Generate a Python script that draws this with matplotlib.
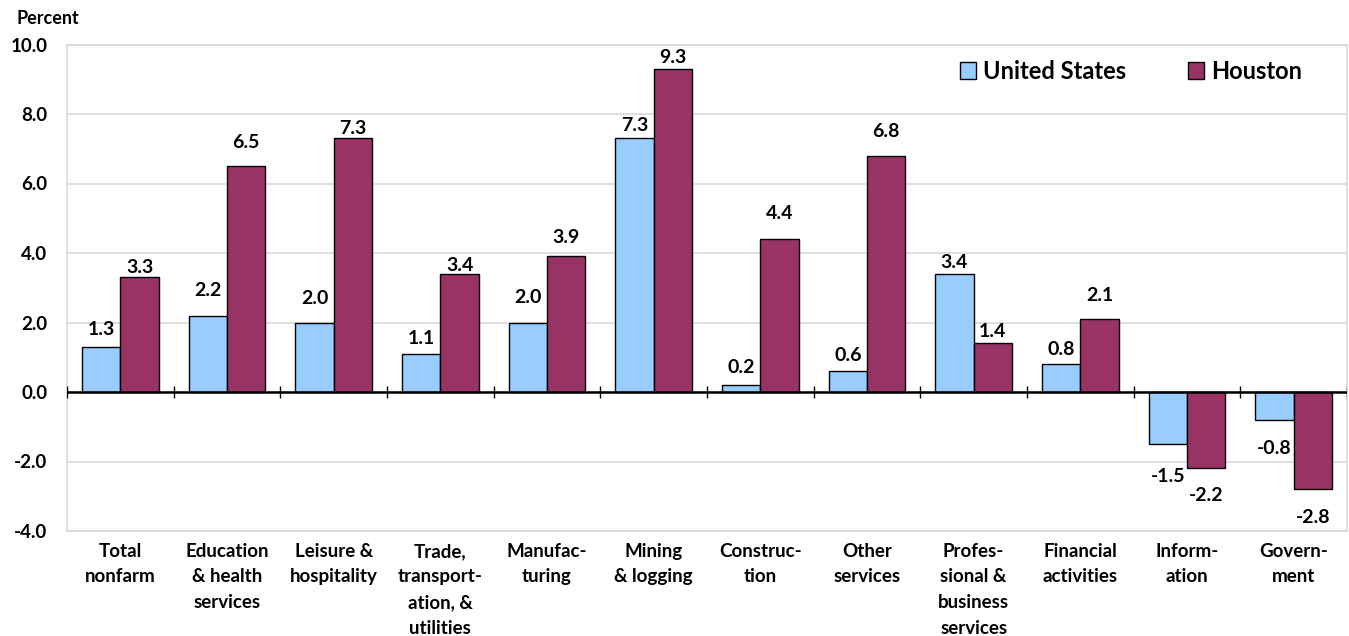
import numpy as np
import matplotlib
matplotlib.use("Agg")
import matplotlib.pyplot as plt

plt.rcParams['font.family'] = ['Lato', 'DejaVu Sans']
plt.rcParams['font.weight'] = 'bold'

categories = ["Total\nnonfarm", "Education\n& health\nservices", "Leisure &\nhospitality",
              "Trade,\ntransport-\nation, &\nutilities", "Manufac-\nturing", "Mining\n& logging",
              "Construc-\ntion", "Other\nservices", "Profes-\nsional &\nbusiness\nservices",
              "Financial\nactivities", "Inform-\nation", "Govern-\nment"]
us_values = [1.3, 2.2, 2.0, 1.1, 2.0, 7.3, 0.2, 0.6, 3.4, 0.8, -1.5, -0.8]
houston_values = [3.3, 6.5, 7.3, 3.4, 3.9, 9.3, 4.4, 6.8, 1.4, 2.1, -2.2, -2.8]
yticks = [-4.0, -2.0, 0.0, 2.0, 4.0, 6.0, 8.0, 10.0]

# label distance from bar end (pixels), the original labels were nudged by hand
us_gap = [17, 25, 24, 15, 25, 13, 18, 16, 11, 15, 32, 29]
houston_gap = [10, 24, 10, 8, 19, 11, 26, 24, 12, 24, 27, 28]

US_COLOR = "#99CCFF"
HOU_COLOR = "#993366"
GRID = "#d9d9d9"
W = "bold"

fig = plt.figure(figsize=(13.49, 6.36), dpi=100)
ax = fig.add_axes([67 / 1349, 105 / 636, 1280 / 1349, 486.5 / 636])

x = np.arange(len(categories))
width = 0.36
b1 = ax.bar(x - width / 2, us_values, width, color=US_COLOR, edgecolor="black", linewidth=1, label="United States", zorder=3)
b2 = ax.bar(x + width / 2, houston_values, width, color=HOU_COLOR, edgecolor="black", linewidth=1, label="Houston", zorder=3)

def add_labels(bars, values, gaps):
    for bar, v, g in zip(bars, values, gaps):
        cx = bar.get_x() + bar.get_width() / 2
        off = g * 0.72 if v >= 0 else -g * 0.72
        ax.annotate(f"{v:.1f}", (cx, v), xytext=(0, off), textcoords="offset points",
                    ha="center", va="center", fontsize=14, fontweight=W, zorder=5)

add_labels(b1, us_values, us_gap)
add_labels(b2, houston_values, houston_gap)

ax.set_xlim(-0.5, len(categories) - 0.5)
ax.set_ylim(-4, 10)
ax.set_yticks(yticks)
ax.set_yticklabels([f"{t:.1f}" for t in yticks], fontweight=W)
ax.tick_params(axis="y", length=0, pad=14, labelsize=13.5)
ax.yaxis.grid(True, color=GRID, linewidth=1.2, zorder=0)
ax.set_axisbelow(True)

ax.set_xticks([])
ax.set_xticks(x, minor=True)
ax.set_xticklabels(categories, minor=True, fontsize=13.5, linespacing=1.62, fontweight=W)
ax.tick_params(axis="x", which="minor", length=0, pad=8.5)

for s in ax.spines.values():
    s.set_color(GRID)
    s.set_linewidth(1.2)

# zero line with category divider ticks
ax.axhline(0, color="black", linewidth=1.8, zorder=4)
bounds = np.arange(len(categories) + 1) - 0.5
ax.vlines(bounds, -0.18, 0.18, color="black", linewidth=1, zorder=4)

fig.text(17 / 1349, 1 - 19 / 636, "Percent", fontsize=13, fontweight=W, va="center")

ax.legend(loc="upper right", bbox_to_anchor=(0.978, 1.003), ncol=2, frameon=False,
          prop={"size": 17, "weight": W}, handlelength=0.7, handleheight=0.7, handletextpad=0.3,
          columnspacing=2.6, borderaxespad=0.3)

fig.savefig("out.png", dpi=100)
